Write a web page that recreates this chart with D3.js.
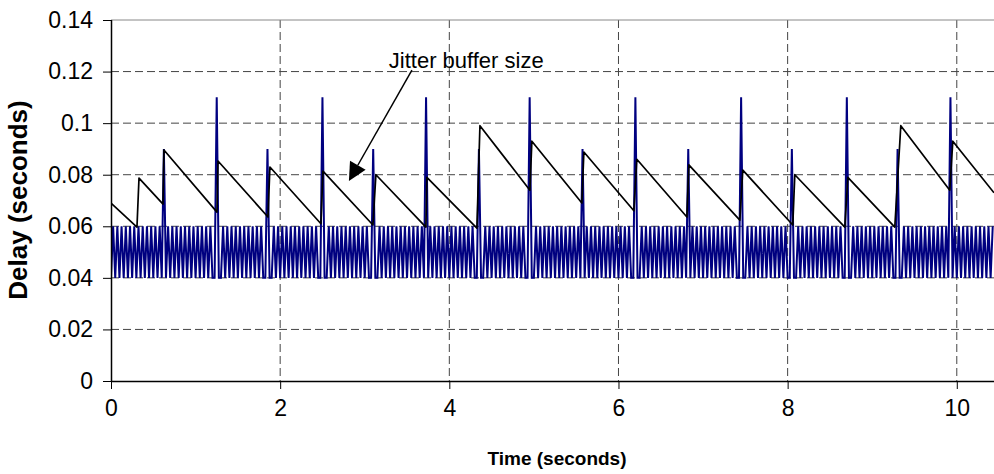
<!DOCTYPE html>
<html lang="en">
<head>
    <meta charset="UTF-8">
    <title>Jitter buffer size</title>
    <script src="https://d3js.org/d3.v7.min.js"></script>
    <style>
        body { margin: 0; background: #fff; font-family: Arial, "Liberation Sans", sans-serif; }
        svg { display: block; }
    </style>
</head>
<body>
<svg width="994" height="474"></svg>
<script>
    // black line: jitter buffer size (peaks and troughs)
    const bufferTimes = [0, 0.307, 0.331, 0.615, 0.626, 1.253, 1.265, 1.856, 1.879, 2.482, 2.506,
        3.097, 3.132, 3.723, 3.735, 4.326, 4.362, 4.953, 4.976, 5.567, 5.591, 6.182, 6.217,
        6.809, 6.832, 7.435, 7.470, 8.061, 8.085, 8.676, 8.712, 9.267, 9.338, 9.917, 9.953, 10.44];
    const bufferValues = [0.069, 0.0597, 0.0787, 0.0686, 0.0896, 0.0655, 0.0853, 0.0636, 0.083, 0.061, 0.0814,
        0.0605, 0.080, 0.0597, 0.079, 0.0593, 0.099, 0.074, 0.093, 0.069, 0.0888, 0.066, 0.086,
        0.0636, 0.0838, 0.0624, 0.0818, 0.0605, 0.080, 0.0597, 0.079, 0.0597, 0.099, 0.074, 0.093, 0.073];

    // blue line: packet delay, alternating between two levels with late packets (spikes)
    const delayLevels = [0.04, 0.06];
    const packetInterval = 0.025;
    const spikeTimes = [0.615, 1.241, 1.856, 2.494, 3.109, 3.735, 4.350, 4.953, 5.579, 6.194,
        6.820, 7.447, 8.061, 8.688, 9.303, 9.929];
    const spikeValues = [0.09, 0.11, 0.09, 0.11, 0.09, 0.11, 0.09, 0.11, 0.09, 0.11,
        0.09, 0.11, 0.09, 0.11, 0.09, 0.11];

    const xTicks = [0, 2, 4, 6, 8, 10];
    const yTicks = [0, 0.02, 0.04, 0.06, 0.08, 0.1, 0.12, 0.14];
    const yTickLabels = ["0", "0.02", "0.04", "0.06", "0.08", "0.1", "0.12", "0.14"];

    const svg = d3.select("svg");
    const plotLeft = 111, plotTop = 20, plotRight = 994, plotBottom = 381;

    const x = d3.scaleLinear().domain([0, 10.44]).range([plotLeft, plotRight]);
    const y = d3.scaleLinear().domain([0, 0.14]).range([plotBottom, plotTop]);

    // build the delay samples
    const nSamples = Math.floor(10.44 / packetInterval) + 1;
    const delay = d3.range(nSamples).map(i => ({ t: i * packetInterval, v: delayLevels[i % 2] }));
    spikeTimes.forEach((t, j) => {
        const k = Math.round(t / packetInterval);
        delay[k].v = spikeValues[j];
        if (delay[k - 1]) delay[k - 1].v = delayLevels[0];
        if (delay[k + 1]) delay[k + 1].v = delayLevels[0];
    });
    const buffer = bufferTimes.map((t, i) => ({ t: t, v: bufferValues[i] }));

    svg.append("clipPath").attr("id", "plot")
        .append("rect").attr("x", plotLeft).attr("y", plotTop - 2)
        .attr("width", plotRight - plotLeft).attr("height", plotBottom - plotTop + 4);

    // gridlines
    svg.append("g").selectAll("line")
        .data(yTicks.filter(d => d > 0 && d < 0.14))
        .join("line")
        .attr("x1", plotLeft).attr("x2", plotRight)
        .attr("y1", d => y(d)).attr("y2", d => y(d))
        .attr("stroke", "#444").attr("stroke-width", 1)
        .attr("stroke-dasharray", "8,4");
    svg.append("g").selectAll("line")
        .data(xTicks.filter(d => d > 0))
        .join("line")
        .attr("x1", d => x(d)).attr("x2", d => x(d))
        .attr("y1", plotTop).attr("y2", plotBottom)
        .attr("stroke", "#444").attr("stroke-width", 1)
        .attr("stroke-dasharray", "8,4");

    // top border of plot area
    svg.append("line")
        .attr("x1", plotLeft).attr("x2", plotRight)
        .attr("y1", y(0.14)).attr("y2", y(0.14))
        .attr("stroke", "#888").attr("stroke-width", 1);

    const line = d3.line().x(d => x(d.t)).y(d => y(d.v));

    const plot = svg.append("g").attr("clip-path", "url(#plot)");
    plot.append("path")
        .datum(delay)
        .attr("d", line)
        .attr("fill", "none")
        .attr("stroke", "#000080")
        .attr("stroke-width", 2);
    plot.append("path")
        .datum(buffer)
        .attr("d", line)
        .attr("fill", "none")
        .attr("stroke", "#000")
        .attr("stroke-width", 1.7)
        .attr("stroke-linejoin", "round");

    // axes
    const xAxis = d3.axisBottom(x).tickValues(xTicks).tickSize(8).tickFormat(d3.format("d"));
    const yAxis = d3.axisLeft(y).tickValues(yTicks).tickSize(8).tickFormat((d, i) => yTickLabels[i]);

    const gx = svg.append("g").attr("transform", `translate(0,${plotBottom})`).call(xAxis);
    gx.select(".domain").attr("d", `M${plotLeft},0.5H${plotRight}`).attr("stroke", "#000").attr("stroke-width", 1.5);
    gx.selectAll(".tick line").attr("stroke", "#000");
    gx.selectAll(".tick text")
        .attr("y", 19).attr("font-size", 23).attr("font-family", "Arial, 'Liberation Sans'")
        .attr("fill", "#000");

    const gy = svg.append("g").attr("transform", `translate(${plotLeft},0)`).call(yAxis);
    gy.select(".domain").attr("d", `M0.5,${plotTop}V${plotBottom}`).attr("stroke", "#000").attr("stroke-width", 1.5);
    gy.selectAll(".tick line").attr("stroke", "#000");
    gy.selectAll(".tick text")
        .attr("x", -18).attr("font-size", 23).attr("font-family", "Arial, 'Liberation Sans'")
        .attr("fill", "#000");

    // axis titles
    svg.append("text")
        .attr("x", 557).attr("y", 465)
        .attr("text-anchor", "middle")
        .attr("font-size", 19).attr("font-weight", "bold")
        .text("Time (seconds)");
    svg.append("text")
        .attr("transform", `translate(27,200) rotate(-90)`)
        .attr("text-anchor", "middle")
        .attr("font-size", 26).attr("font-weight", "bold")
        .text("Delay (seconds)");

    // annotation
    svg.append("text")
        .attr("x", x(4.2)).attr("y", y(0.1237))
        .attr("text-anchor", "middle").attr("dominant-baseline", "middle")
        .attr("font-size", 22)
        .text("Jitter buffer size");

    const tip = [x(2.813), y(0.0776)];
    const start = [x(3.558), y(0.1206)];
    const ang = Math.atan2(tip[1] - start[1], tip[0] - start[0]);
    const headLen = 18, headHalf = 9;
    const base = [tip[0] - headLen * Math.cos(ang), tip[1] - headLen * Math.sin(ang)];
    svg.append("line")
        .attr("x1", start[0]).attr("y1", start[1])
        .attr("x2", base[0]).attr("y2", base[1])
        .attr("stroke", "#000").attr("stroke-width", 1.5);
    svg.append("path")
        .attr("d", `M${tip[0]},${tip[1]}` +
            `L${base[0] + headHalf * Math.sin(ang)},${base[1] - headHalf * Math.cos(ang)}` +
            `L${base[0] - headHalf * Math.sin(ang)},${base[1] + headHalf * Math.cos(ang)}Z`)
        .attr("fill", "#000");
</script>
</body>
</html>
